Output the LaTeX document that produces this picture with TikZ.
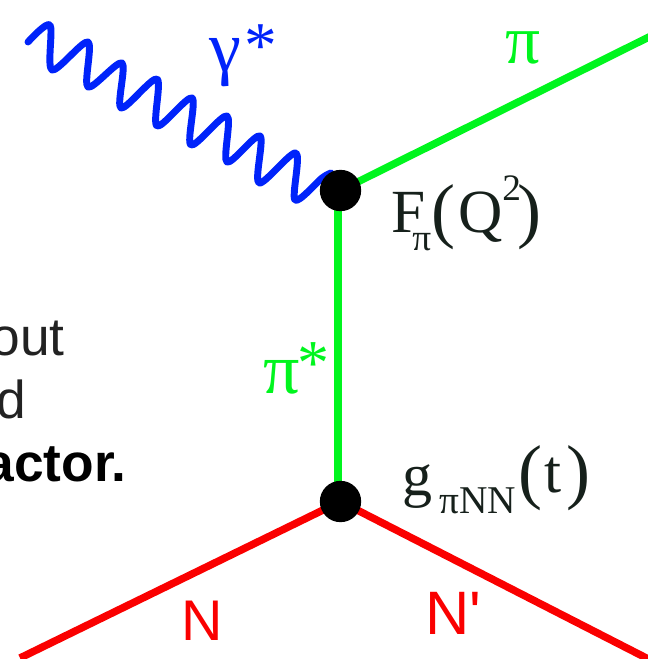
\documentclass[tikz,border=0pt]{standalone}
\usepackage{fontspec}
\usetikzlibrary{backgrounds}
\setmainfont{Liberation Serif}
\newfontfamily\sansf{Liberation Sans}
\definecolor{glin}{RGB}{0,245,30}
\definecolor{blin}{RGB}{0,35,250}
\definecolor{rlin}{RGB}{250,0,0}
\definecolor{inkt}{RGB}{34,34,34}
\definecolor{formt}{RGB}{22,32,27}
\newcommand{\fsz}[1]{\fontsize{#1}{#1}\selectfont}
\tikzset{
  vertexdot/.style={circle,fill=black,inner sep=0pt,minimum size=31pt},
  glabel/.style={text=glin,inner sep=0pt,anchor=base west},
  blabel/.style={text=blin,inner sep=0pt,anchor=base west},
  rlabel/.style={text=rlin,inner sep=0pt,anchor=base west},
  bodytxt/.style={inner sep=0pt,anchor=base east,font=\sansf\fsz{40}},
  formlabel/.style={text=formt,inner sep=0pt,anchor=base west},
  fline/.style={line width=5.6pt}
}
\begin{document}
\begin{tikzpicture}[x=0.75pt,y=-0.75pt]
\useasboundingbox (0,0) rectangle (647,659);
\clip (0,0) rectangle (647,659);
\node[vertexdot] (top) at (340.5,190.5) {};
\node[vertexdot] (bot) at (340.5,501.5) {};
\coordinate (piend) at (660,31.5);
\coordinate (nend) at (20,658);
\coordinate (npend) at (660,665);
\begin{scope}[on background layer]
\draw[fline,glin] (top.center) -- (piend);
\draw[fline,glin] ([xshift=-1.8pt]top.center) -- ([xshift=-1.8pt]bot.center);
\draw[fline,rlin] (bot.center) -- (nend);
\draw[fline,rlin] (bot.center) -- (npend);
\draw[blin,line width=5.2pt,line cap=round,line join=round]
  plot[smooth,tension=0.5] coordinates {(28,42) (50,25) (52,70) (88,42) (88,87) (122,63) (121,108) (157,79) (157,126) (192,98) (191,145) (227,116) (227,162) (260,136) (259,183) (296,153) (295,200) (322,178) (331,173)};
\end{scope}
\node[blabel,font=\fsz{54}] (gam) at (209,72) {γ};
\node[blabel,font=\fsz{49}] (gams) at (244,68) {*};
\node[glabel,font=\fsz{52}] (pi) at (505,64) {π};
\node[glabel,font=\fsz{54}] (pis) at (263,393) {π};
\node[glabel,font=\fsz{48}] (piss) at (297,384) {*};
\node[formlabel,font=\fsz{46}] (f) at (391,232) {F};
\node[formlabel,font=\fsz{28}] (fs) at (412,250) {π};
\node[formlabel,font=\fsz{54}] (fo) at (431,234) {(};
\node[formlabel,font=\fsz{46}] (fq) at (458,232) {Q};
\node[formlabel,font=\fsz{28}] (f2) at (502,200) {2};
\node[formlabel,font=\fsz{54}] (fc) at (517,234) {)};
\node[formlabel,font=\fsz{45}] (g) at (402,495) {g};
\node[formlabel,font=\fsz{29.5}] (gs) at (439,513) {πNN};
\node[formlabel,font=\fsz{54}] (go) at (518,495) {(};
\node[formlabel,font=\fsz{46}] (gt) at (544,492) {t};
\node[formlabel,font=\fsz{54}] (gc) at (566,495) {)};
\node[rlabel,font=\sansf\fsz{43}] (n) at (181,640) {N};
\node[rlabel,font=\sansf\fsz{46}] (np) at (425,634) {N'};
\node[bodytxt,text=inkt] (l1) at (65,355) {out};
\node[bodytxt,text=inkt] (l2) at (26,418) {d};
\node[bodytxt,text=black,font=\sansf\bfseries\fsz{40}] (l3) at (127,481) {actor.};
\end{tikzpicture}
\end{document}
